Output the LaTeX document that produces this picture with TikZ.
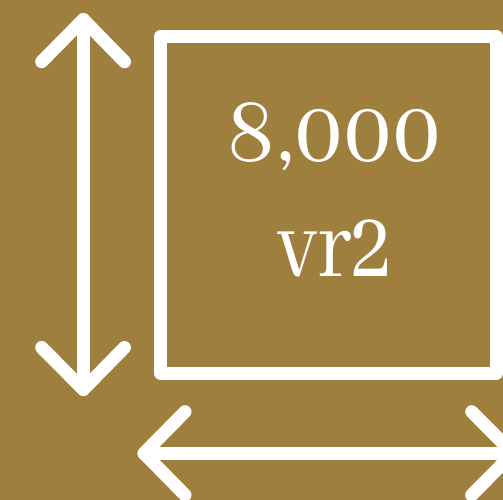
\documentclass[tikz,border=0pt]{standalone}
\usepackage{fontspec}
\newfontfamily\labelfont{Abhaya Libre}
\definecolor{bg}{HTML}{9F7F3E}
\tikzset{
  ink/.style={draw=white,line width=13pt,line cap=round,line join=round},
  label/.style={text=white,inner sep=0pt,font=\labelfont\fontsize{96}{96}\selectfont,anchor=base}
}
\begin{document}
\begin{tikzpicture}[x=1pt,y=-1pt]
\path[use as bounding box] (0,0) rectangle (503,500);
\clip (0,0) rectangle (503,500);
\fill[bg] (0,0) rectangle (503,500);
\draw[ink,line cap=butt] (160.5,36.5) rectangle (496.5,373);
\coordinate (vtop) at (83.3,19.5);
\coordinate (vbot) at (83.3,389.5);
\coordinate (hleft) at (144,453.3);
\coordinate (hright) at (513,453.3);
\draw[ink] (vtop) -- (vbot);
\draw[ink] (41.7,61.7) -- (vtop) -- (124.5,61.7);
\draw[ink] (41.7,347.5) -- (vbot) -- (124.5,347.5);
\draw[ink] (hleft) -- (hright);
\draw[ink] (185,411.7) -- (hleft) -- (185,495);
\draw[ink] (471.7,411.7) -- (hright) -- (471.7,495);
\node[label,xscale=.995,yscale=1.03] (value) at (334,161.5) {8,000};
\node[label,xscale=.93,yscale=1.12] (unit) at (335,276) {vr2};
\end{tikzpicture}
\end{document}
